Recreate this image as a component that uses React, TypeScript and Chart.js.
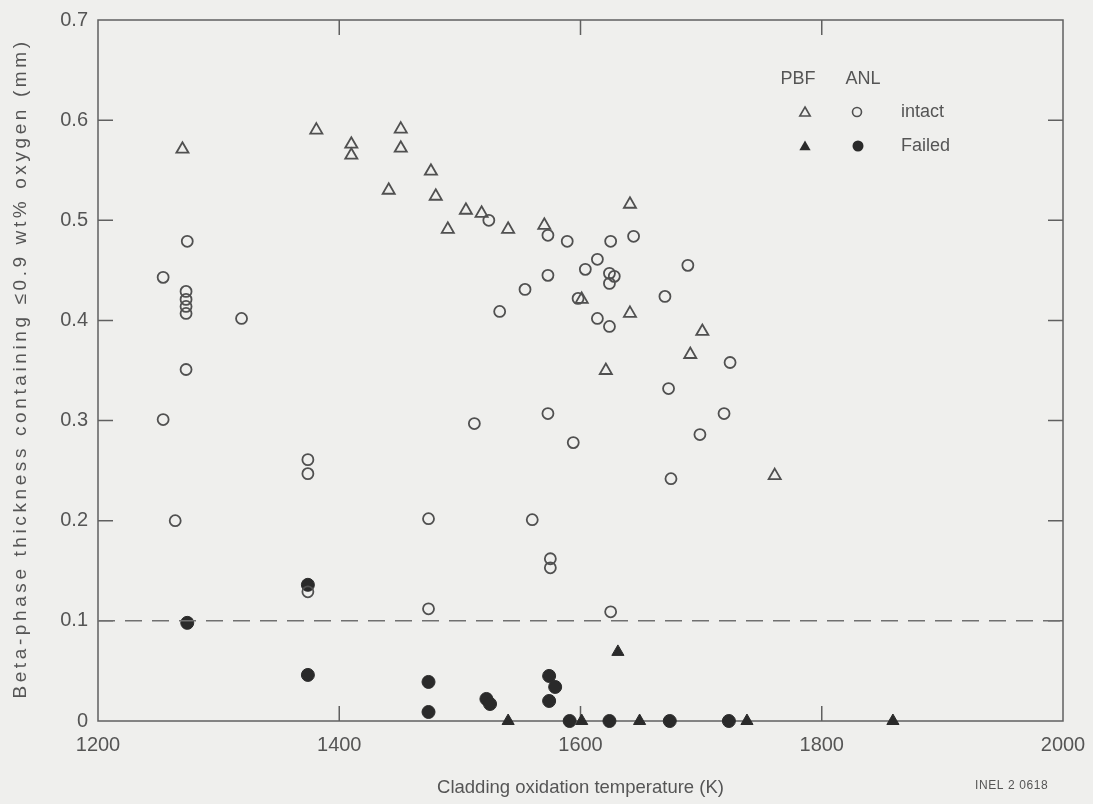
import React, { useEffect, useRef } from 'react';
import { Chart, registerables } from 'chart.js';

Chart.register(...registerables);

// Axis ranges / ticks
const xMin = 1200;
const xMax = 2000;
const xStep = 200;
const yMin = 0;
const yMax = 0.7;
const yStep = 0.1;
const limitValue = 0.1;

const xTitle = 'Cladding oxidation temperature (K)';
const yTitle = 'Beta-phase thickness containing \u22640.9 wt% oxygen (mm)';
const figureId = 'INEL 2 0618';
const legendHeads = ['PBF', 'ANL'];
const legendRows = ['intact', 'Failed'];

// PBF intact (open triangles)
const pbfIntactT = [1270, 1381, 1410, 1410, 1451, 1451, 1441, 1476, 1480, 1505, 1490, 1518, 1540, 1570, 1641, 1641, 1601, 1701, 1691, 1621, 1761];
const pbfIntactV = [0.571, 0.590, 0.576, 0.565, 0.591, 0.572, 0.530, 0.549, 0.524, 0.510, 0.491, 0.507, 0.491, 0.495, 0.516, 0.407, 0.421, 0.389, 0.366, 0.350, 0.245];

// ANL intact (open circles)
const anlIntactT = [1274, 1254, 1273, 1273, 1273, 1273, 1319, 1273, 1254, 1374, 1374, 1264, 1474, 1374, 1474, 1524, 1573, 1589, 1625, 1644, 1614, 1604, 1573, 1554, 1624, 1628, 1624, 1598, 1533, 1614, 1624, 1689, 1670, 1724, 1673, 1719, 1699, 1573, 1594, 1675, 1512, 1560, 1575, 1575, 1625];
const anlIntactV = [0.479, 0.443, 0.429, 0.421, 0.414, 0.407, 0.402, 0.351, 0.301, 0.261, 0.247, 0.200, 0.202, 0.129, 0.112, 0.500, 0.485, 0.479, 0.479, 0.484, 0.461, 0.451, 0.445, 0.431, 0.447, 0.444, 0.437, 0.422, 0.409, 0.402, 0.394, 0.455, 0.424, 0.358, 0.332, 0.307, 0.286, 0.307, 0.278, 0.242, 0.297, 0.201, 0.162, 0.153, 0.109];

// PBF failed (filled triangles)
const pbfFailedT = [1631, 1540, 1601, 1649, 1738, 1859];
const pbfFailedV = [0.069, 0, 0, 0, 0, 0];

// ANL failed (filled circles)
const anlFailedT = [1274, 1374, 1374, 1474, 1474, 1522, 1525, 1574, 1579, 1574, 1591, 1624, 1674, 1723];
const anlFailedV = [0.098, 0.136, 0.046, 0.039, 0.009, 0.022, 0.017, 0.045, 0.034, 0.020, 0, 0, 0, 0];

const toPts = (t: number[], v: number[]) => t.map((x, i) => ({ x, y: v[i] }));

const FONT = '"Liberation Sans", Arial, Helvetica, sans-serif';
const TEXT = '#555555';
const MARK = '#505050';
const FILL = '#2a2a2a';

const decorPlugin = {
  id: 'decor',
  beforeDatasetsDraw(chart: any) {
    const { ctx, chartArea: a, scales } = chart;
    ctx.save();
    ctx.strokeStyle = '#606060';
    ctx.lineWidth = 1.5;
    ctx.strokeRect(a.left, a.top, a.right - a.left, a.bottom - a.top);
    const L = 15;
    ctx.beginPath();
    scales.x.ticks.forEach((t: any) => {
      if (t.value <= xMin || t.value >= xMax) return;
      const px = scales.x.getPixelForValue(t.value);
      ctx.moveTo(px, a.bottom);
      ctx.lineTo(px, a.bottom - L);
      ctx.moveTo(px, a.top);
      ctx.lineTo(px, a.top + L);
    });
    scales.y.ticks.forEach((t: any) => {
      if (t.value <= yMin + 1e-9 || t.value >= yMax - 1e-9) return;
      const py = scales.y.getPixelForValue(t.value);
      ctx.moveTo(a.left, py);
      ctx.lineTo(a.left + L, py);
      ctx.moveTo(a.right, py);
      ctx.lineTo(a.right - L, py);
    });
    ctx.stroke();
    ctx.restore();
  },
  afterDraw(chart: any) {
    const { ctx, chartArea: a } = chart;
    ctx.save();
    // y-axis title (letter-spaced like the original lettering)
    ctx.save();
    ctx.fillStyle = TEXT;
    ctx.font = `19px ${FONT}`;
    (ctx as any).letterSpacing = '3.6px';
    ctx.textAlign = 'center';
    ctx.textBaseline = 'middle';
    ctx.translate(21, (a.top + a.bottom) / 2);
    ctx.rotate(-Math.PI / 2);
    ctx.fillText(yTitle, 2, 0);
    ctx.restore();

    ctx.fillStyle = TEXT;
    ctx.font = `18px ${FONT}`;
    ctx.textBaseline = 'middle';
    ctx.textAlign = 'center';
    ctx.fillText(legendHeads[0], 798, 79);
    ctx.fillText(legendHeads[1], 863, 79);
    ctx.textAlign = 'left';
    ctx.fillText(legendRows[0], 901, 112);
    ctx.fillText(legendRows[1], 901, 146);
    const tri = (x: number, y: number, r: number, fill: boolean) => {
      ctx.beginPath();
      ctx.moveTo(x, y - r);
      ctx.lineTo(x + r * 0.866, y + r * 0.5);
      ctx.lineTo(x - r * 0.866, y + r * 0.5);
      ctx.closePath();
      if (fill) { ctx.fillStyle = FILL; ctx.fill(); }
      else { ctx.strokeStyle = MARK; ctx.lineWidth = 1.6; ctx.stroke(); }
    };
    const cir = (x: number, y: number, r: number, fill: boolean) => {
      ctx.beginPath();
      ctx.arc(x, y, r, 0, Math.PI * 2);
      if (fill) { ctx.fillStyle = FILL; ctx.fill(); }
      else { ctx.strokeStyle = MARK; ctx.lineWidth = 1.6; ctx.stroke(); }
    };
    tri(805, 113, 6, false);
    cir(857, 112, 4.5, false);
    tri(805, 147, 6.5, true);
    cir(858, 146, 5.5, true);
    ctx.fillStyle = TEXT;
    ctx.font = `12px ${FONT}`;
    (ctx as any).letterSpacing = '0.6px';
    ctx.textAlign = 'left';
    ctx.fillText(figureId, 975, 786);
    ctx.restore();
  },
};

export default function App() {
  const ref = useRef<HTMLCanvasElement | null>(null);
  useEffect(() => {
    document.body.style.margin = '0';
    document.body.style.background = '#efefed';
    const canvas = ref.current;
    if (!canvas) return;
    const chart = new Chart(canvas, {
      type: 'scatter',
      data: {
        datasets: [
          {
            type: 'line',
            label: 'limit',
            data: [{ x: xMin, y: limitValue }, { x: xMax, y: limitValue }],
            borderColor: '#707070',
            borderWidth: 1.5,
            borderDash: [17, 10],
            pointRadius: 0,
            fill: false,
          },
          {
            label: 'PBF intact',
            data: toPts(pbfIntactT, pbfIntactV),
            pointStyle: 'triangle',
            pointRadius: 7,
            pointBorderWidth: 1.8,
            pointBorderColor: MARK,
            pointBackgroundColor: 'rgba(0,0,0,0)',
          },
          {
            label: 'ANL intact',
            data: toPts(anlIntactT, anlIntactV),
            pointStyle: 'circle',
            pointRadius: 5.5,
            pointBorderWidth: 1.8,
            pointBorderColor: MARK,
            pointBackgroundColor: 'rgba(0,0,0,0)',
          },
          {
            label: 'PBF failed',
            data: toPts(pbfFailedT, pbfFailedV),
            pointStyle: 'triangle',
            pointRadius: 7,
            pointBorderWidth: 1,
            pointBorderColor: FILL,
            pointBackgroundColor: FILL,
          },
          {
            label: 'ANL failed',
            data: toPts(anlFailedT, anlFailedV),
            pointStyle: 'circle',
            pointRadius: 6.5,
            pointBorderWidth: 1,
            pointBorderColor: FILL,
            pointBackgroundColor: FILL,
          },
        ] as any,
      },
      options: {
        animation: false,
        responsive: false,
        clip: false as any,
        layout: { padding: { top: 20, right: 30, left: 0, bottom: 0 } },
        plugins: { legend: { display: false }, tooltip: { enabled: false } },
        scales: {
          x: {
            type: 'linear',
            min: xMin,
            max: xMax,
            grid: { display: false },
            border: { display: false },
            ticks: {
              stepSize: xStep,
              padding: 4,
              color: TEXT,
              font: { family: FONT, size: 20 },
              maxRotation: 0,
              callback: (v: any) => String(v),
            },
            title: {
              display: true,
              text: xTitle,
              color: TEXT,
              font: { family: FONT, size: 18.5 },
              padding: { top: 0, bottom: 5 },
            },
            afterFit: (s: any) => { s.height = 83; },
          },
          y: {
            type: 'linear',
            min: yMin,
            max: yMax,
            grid: { display: false },
            border: { display: false },
            ticks: {
              stepSize: yStep,
              padding: 2,
              color: TEXT,
              font: { family: FONT, size: 20 },
              callback: (v: any) => (Number(v) === 0 ? '0' : Number(v).toFixed(1)),
            },
            title: { display: false },
            afterFit: (s: any) => { s.width = 98; },
          },
        },
      },
      plugins: [decorPlugin],
    });
    return () => chart.destroy();
  }, []);
  return (
    <div style={{ width: 1093, height: 804, position: 'relative' }}>
      <canvas ref={ref} width={1093} height={804} style={{ display: 'block' }} />
    </div>
  );
}
